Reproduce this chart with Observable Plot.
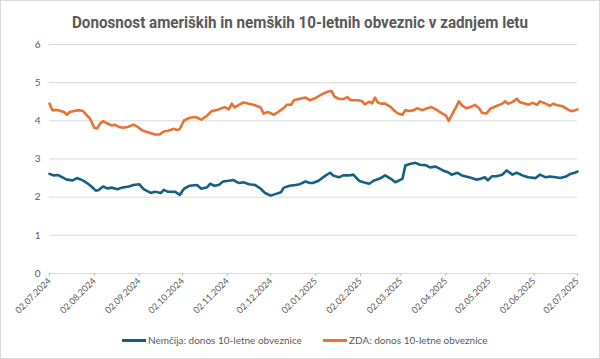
<!DOCTYPE html>
<html>
<head>
<meta charset="utf-8">
<script src="https://cdn.jsdelivr.net/npm/d3@7"></script>
<script src="https://cdn.jsdelivr.net/npm/@observablehq/plot@0.6"></script>
<style>
  html, body { margin: 0; padding: 0; background: #fff; }
  #wrap { position: relative; width: 600px; height: 359px; overflow: hidden; background: #fff; font-family: "Liberation Sans", Arial, sans-serif; }
  #frame { position: absolute; left: 0; top: 0; width: 598px; height: 357px; border: 1px solid #d9d9d9; pointer-events: none; }
  #title { position: absolute; left: 0; top: 0; }
  #chart { position: absolute; left: 0; top: 0; }
  .leg { position: absolute; top: 334px; font-size: 10px; color: #595959; font-family: Lato, "Liberation Sans", sans-serif; white-space: nowrap; }
  .sw { display: inline-block; width: 24px; height: 3px; vertical-align: middle; margin-right: 2px; position: relative; top: -1px; }
</style>
</head>
<body>
<div id="wrap">
  <svg id="title" width="600" height="40"><text id="titleText" x="300" y="28" text-anchor="middle" textLength="456" lengthAdjust="spacingAndGlyphs" font-family="Roboto, 'Liberation Sans', sans-serif" font-weight="bold" font-size="16" fill="#595959"></text></svg>
  <div id="chart"></div>
  <div class="leg" id="leg1" style="left:122px"></div>
  <div class="leg" id="leg2" style="left:323px"></div>
  <div id="frame"></div>
</div>
<script>
const title = "Donosnost ameriških in nemških 10-letnih obveznic v zadnjem letu";
const seriesNames = ["Nemčija: donos 10-letne obveznice", "ZDA: donos 10-letne obveznice"];
const seriesColors = ["#156082", "#E97132"];
const yTicks = [0, 1, 2, 3, 4, 5, 6];
const xTickDates = ["2024-07-02","2024-08-02","2024-09-02","2024-10-02","2024-11-02","2024-12-02","2025-01-02","2025-02-02","2025-03-02","2025-04-02","2025-05-02","2025-06-02","2025-07-02"];

const deDates = ["2024-07-02","2024-07-05","2024-07-08","2024-07-11","2024-07-14","2024-07-18","2024-07-21","2024-07-25","2024-07-28","2024-07-31","2024-08-03","2024-08-05","2024-08-08","2024-08-11","2024-08-14","2024-08-18","2024-08-21","2024-08-26","2024-08-29","2024-09-02","2024-09-05","2024-09-10","2024-09-13","2024-09-17","2024-09-19","2024-09-22","2024-09-27","2024-09-30","2024-10-03","2024-10-07","2024-10-12","2024-10-15","2024-10-19","2024-10-21","2024-10-24","2024-10-27","2024-10-30","2024-11-03","2024-11-06","2024-11-10","2024-11-13","2024-11-17","2024-11-21","2024-11-25","2024-11-28","2024-12-02","2024-12-05","2024-12-09","2024-12-11","2024-12-15","2024-12-19","2024-12-22","2024-12-26","2024-12-29","2024-12-31","2025-01-04","2025-01-09","2025-01-12","2025-01-14","2025-01-18","2025-01-21","2025-01-25","2025-01-28","2025-02-01","2025-02-04","2025-02-08","2025-02-11","2025-02-15","2025-02-19","2025-02-23","2025-02-26","2025-03-03","2025-03-05","2025-03-08","2025-03-12","2025-03-15","2025-03-19","2025-03-22","2025-03-26","2025-03-29","2025-03-31","2025-04-03","2025-04-06","2025-04-10","2025-04-13","2025-04-18","2025-04-23","2025-04-26","2025-04-29","2025-05-01","2025-05-04","2025-05-07","2025-05-11","2025-05-14","2025-05-18","2025-05-21","2025-05-25","2025-05-29","2025-06-03","2025-06-06","2025-06-10","2025-06-13","2025-06-17","2025-06-20","2025-06-24","2025-06-27","2025-06-30","2025-07-02"];
const deValues = [2.61,2.57,2.58,2.52,2.46,2.44,2.50,2.44,2.37,2.28,2.17,2.19,2.28,2.23,2.25,2.21,2.25,2.28,2.32,2.34,2.21,2.11,2.14,2.11,2.19,2.14,2.14,2.06,2.22,2.30,2.32,2.22,2.26,2.35,2.30,2.32,2.41,2.43,2.45,2.37,2.39,2.34,2.32,2.22,2.11,2.04,2.08,2.13,2.25,2.30,2.32,2.34,2.41,2.37,2.37,2.43,2.57,2.64,2.57,2.52,2.57,2.57,2.59,2.43,2.39,2.35,2.43,2.48,2.57,2.48,2.39,2.48,2.83,2.87,2.90,2.85,2.84,2.78,2.80,2.74,2.70,2.66,2.59,2.64,2.57,2.52,2.46,2.48,2.52,2.44,2.55,2.55,2.59,2.70,2.59,2.64,2.57,2.52,2.50,2.59,2.52,2.54,2.52,2.50,2.54,2.61,2.64,2.67];

const usDates = ["2024-07-02","2024-07-04","2024-07-08","2024-07-12","2024-07-14","2024-07-16","2024-07-19","2024-07-22","2024-07-25","2024-07-28","2024-07-30","2024-08-02","2024-08-04","2024-08-06","2024-08-08","2024-08-11","2024-08-14","2024-08-16","2024-08-19","2024-08-22","2024-08-25","2024-08-29","2024-09-01","2024-09-04","2024-09-09","2024-09-13","2024-09-16","2024-09-19","2024-09-22","2024-09-26","2024-09-28","2024-09-30","2024-10-03","2024-10-07","2024-10-11","2024-10-15","2024-10-19","2024-10-22","2024-10-27","2024-10-31","2024-11-03","2024-11-05","2024-11-07","2024-11-10","2024-11-13","2024-11-17","2024-11-21","2024-11-25","2024-11-27","2024-11-30","2024-12-04","2024-12-07","2024-12-11","2024-12-13","2024-12-16","2024-12-18","2024-12-22","2024-12-26","2024-12-29","2025-01-02","2025-01-06","2025-01-10","2025-01-13","2025-01-15","2025-01-18","2025-01-21","2025-01-24","2025-01-26","2025-01-31","2025-02-03","2025-02-05","2025-02-08","2025-02-10","2025-02-12","2025-02-14","2025-02-16","2025-02-19","2025-02-23","2025-02-25","2025-02-28","2025-03-03","2025-03-05","2025-03-08","2025-03-11","2025-03-13","2025-03-17","2025-03-20","2025-03-23","2025-03-27","2025-03-29","2025-03-31","2025-04-02","2025-04-04","2025-04-06","2025-04-09","2025-04-11","2025-04-13","2025-04-16","2025-04-19","2025-04-22","2025-04-25","2025-04-27","2025-04-30","2025-05-03","2025-05-05","2025-05-07","2025-05-11","2025-05-13","2025-05-15","2025-05-18","2025-05-21","2025-05-23","2025-05-27","2025-05-29","2025-06-01","2025-06-04","2025-06-06","2025-06-10","2025-06-13","2025-06-15","2025-06-18","2025-06-21","2025-06-24","2025-06-27","2025-06-29","2025-07-02"];
const usValues = [4.45,4.28,4.28,4.23,4.16,4.23,4.26,4.28,4.26,4.14,4.06,3.81,3.80,3.93,3.99,3.93,3.88,3.90,3.84,3.82,3.84,3.90,3.84,3.75,3.69,3.64,3.64,3.72,3.74,3.79,3.76,3.78,4.01,4.08,4.10,4.03,4.14,4.25,4.30,4.36,4.30,4.45,4.35,4.42,4.48,4.45,4.41,4.35,4.19,4.23,4.16,4.23,4.34,4.42,4.42,4.54,4.58,4.61,4.54,4.60,4.69,4.76,4.78,4.63,4.58,4.57,4.62,4.54,4.54,4.52,4.43,4.50,4.46,4.61,4.48,4.45,4.45,4.36,4.28,4.19,4.16,4.28,4.26,4.28,4.33,4.28,4.33,4.36,4.28,4.23,4.18,4.14,4.00,4.14,4.36,4.51,4.41,4.33,4.36,4.42,4.33,4.21,4.19,4.33,4.35,4.39,4.45,4.51,4.45,4.49,4.58,4.49,4.45,4.42,4.47,4.42,4.51,4.45,4.39,4.45,4.41,4.39,4.33,4.26,4.26,4.30];

const parse = d3.utcParse("%Y-%m-%d");
const fmt = d3.utcFormat("%d.%m.%Y");
const rows = [
  ...deDates.map((d, i) => ({date: parse(d), value: deValues[i], series: seriesNames[0]})),
  ...usDates.map((d, i) => ({date: parse(d), value: usValues[i], series: seriesNames[1]}))
];
const xTicks = xTickDates.map(parse);

document.getElementById("titleText").textContent = title;
document.getElementById("leg1").innerHTML = `<span class="sw" style="background:${seriesColors[0]}"></span>${seriesNames[0]}`;
document.getElementById("leg2").innerHTML = `<span class="sw" style="background:${seriesColors[1]}"></span>${seriesNames[1]}`;

const chart = Plot.plot({
  width: 600,
  height: 330,
  marginTop: 44,
  marginBottom: 57,
  marginLeft: 49,
  marginRight: 23,
  style: {fontFamily: "Lato, 'Liberation Sans', sans-serif", background: "transparent", overflow: "visible"},
  x: {type: "utc", domain: [xTicks[0], xTicks[xTicks.length - 1]]},
  y: {domain: [0, 6]},
  color: {domain: seriesNames, range: seriesColors},
  marks: [
    Plot.ruleY(yTicks, {stroke: "#d9d9d9", strokeWidth: 1}),
    Plot.axisY({ticks: yTicks, tickFormat: d3.format("d"), tickSize: 0, tickPadding: 9, fontSize: 10, fill: "#595959", label: null}),
    Plot.axisX({ticks: xTicks, tickFormat: fmt, tickRotate: -45, tickSize: 3, tickPadding: 3, stroke: "#bfbfbf", fill: "#595959", fontSize: 9, label: null}),
    Plot.line(rows, {x: "date", y: "value", z: "series", stroke: "series", strokeWidth: 2.6, strokeLinejoin: "round", curve: "linear"})
  ]
});
document.getElementById("chart").appendChild(chart);
</script>
</body>
</html>
